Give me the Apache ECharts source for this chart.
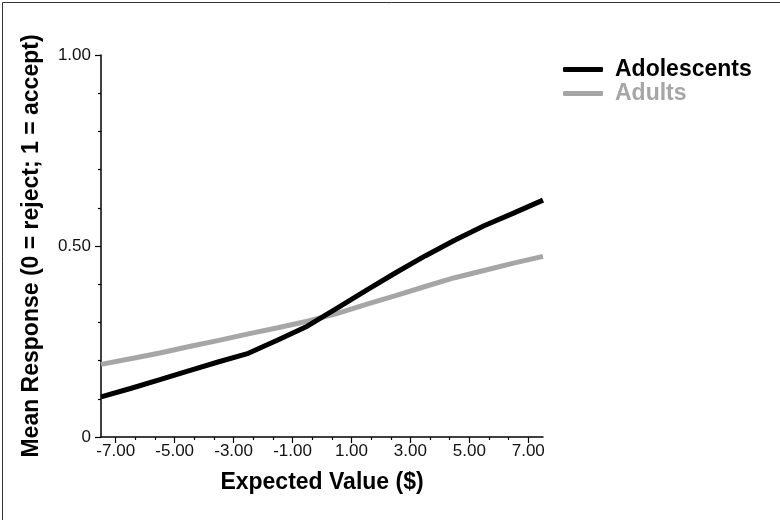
<!DOCTYPE html>
<html>
<head>
<meta charset="utf-8">
<script src="https://cdn.jsdelivr.net/npm/echarts@6/dist/echarts.min.js"></script>
<style>html,body{margin:0;padding:0;background:#fff}#c{width:780px;height:520px}</style>
</head>
<body>
<div id="c"></div>
<script>
// Data
var xValues = [-7.5, -6.5, -5.5, -4.5, -3.5, -2.5, -1.5, -0.5, 0.5, 1.5, 2.5, 3.5, 4.5, 5.5, 6.5, 7.5];
var adolescents = [0.105, 0.127, 0.150, 0.174, 0.197, 0.219, 0.254, 0.290, 0.337, 0.384, 0.430, 0.474, 0.515, 0.553, 0.586, 0.620];
var adults = [0.190, 0.205, 0.220, 0.237, 0.253, 0.270, 0.286, 0.303, 0.323, 0.347, 0.370, 0.394, 0.417, 0.436, 0.455, 0.473];
var xMajorTicks = [-7, -5, -3, -1, 1, 3, 5, 7];
var xMinorTicks = [-6.3333, -5.6667, -4.3333, -3.6667, -2.3333, -1.6667, -0.3333, 0.3333, 1.6667, 2.3333, 3.6667, 4.3333, 5.6667, 6.3333];
var seriesNames = ['Adolescents', 'Adults'];

var FONT = '"Liberation Sans", Arial, Helvetica, sans-serif';
var chart = echarts.init(document.getElementById('c'), null, {renderer: 'canvas'});

function pairs(ys) { return xValues.map(function (x, i) { return [x, ys[i]]; }); }

chart.setOption({
  animation: false,
  backgroundColor: '#fff',
  textStyle: {fontFamily: FONT},
  graphic: [{
    type: 'rect', left: 0, top: 0, z: -10,
    shape: {x: 0.5, y: 0.5, width: 779, height: 519},
    style: {fill: 'none', stroke: '#333', lineWidth: 1}
  }],
  grid: {left: 101, right: 237, top: 55, bottom: 83, containLabel: false},
  legend: {
    orient: 'vertical', left: 558, top: 53,
    icon: 'roundRect', itemWidth: 40, itemHeight: 5, itemGap: 1,
    selectedMode: false,
    textStyle: {fontFamily: FONT, fontSize: 23, fontWeight: 'bold', lineHeight: 23, padding: [0, 0, 0, 7]},
    data: [
      {name: seriesNames[0], textStyle: {color: '#000'}},
      {name: seriesNames[1], textStyle: {color: '#a6a6a6'}}
    ]
  },
  xAxis: [{
    type: 'value', min: -7.5, max: 7.5,
    name: 'Expected Value ($)', nameLocation: 'middle', nameGap: 34,
    nameTextStyle: {fontFamily: FONT, fontSize: 23, fontWeight: 'bold', color: '#000'},
    axisLine: {show: true, onZero: false, lineStyle: {color: '#000', width: 1.5}},
    axisTick: {show: true, customValues: xMajorTicks, length: 6, lineStyle: {color: '#000', width: 1.2}},
    axisLabel: {show: true, customValues: xMajorTicks, margin: 6, fontFamily: FONT, fontSize: 17, color: '#111',
      formatter: function (v) { return v.toFixed(2); }},
    splitLine: {show: false}
  }, {
    type: 'value', min: -7.5, max: 7.5, position: 'bottom', gridIndex: 0,
    axisLine: {show: false},
    axisTick: {show: true, customValues: xMinorTicks, length: 3, lineStyle: {color: '#000', width: 1.2}},
    axisLabel: {show: false},
    splitLine: {show: false}
  }],
  yAxis: {
    type: 'value', min: 0, max: 1, interval: 0.5,
    name: 'Mean Response (0 = reject; 1 = accept)', nameLocation: 'middle', nameGap: 58,
    nameTextStyle: {fontFamily: FONT, fontSize: 23, fontWeight: 'bold', color: '#000'},
    axisLine: {show: true, onZero: false, lineStyle: {color: '#000', width: 1.5}},
    axisTick: {show: true, length: 6, lineStyle: {color: '#000', width: 1.2}},
    minorTick: {show: true, splitNumber: 5, length: 3, lineStyle: {color: '#000', width: 1.2}},
    axisLabel: {margin: 10, fontFamily: FONT, fontSize: 17, color: '#111',
      formatter: function (v) { return v === 0 ? '0' : v.toFixed(2); }},
    splitLine: {show: false}
  },
  series: [{
    name: seriesNames[0], type: 'line', data: pairs(adolescents), showSymbol: false,
    color: '#000', lineStyle: {color: '#000', width: 5}, z: 3
  }, {
    name: seriesNames[1], type: 'line', data: pairs(adults), showSymbol: false,
    color: '#a6a6a6', lineStyle: {color: '#a6a6a6', width: 5}, z: 2
  }]
});
</script>
</body>
</html>
